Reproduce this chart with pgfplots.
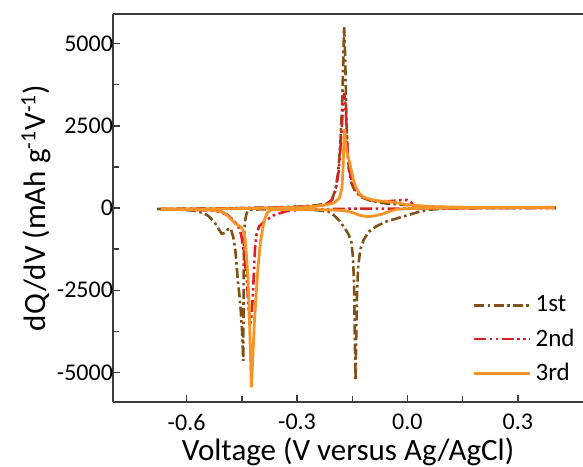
\documentclass[border=0pt]{standalone}
\usepackage{fontspec}
\setmainfont{Carlito}
\usepackage{pgfplots}
\pgfplotsset{compat=1.18}
\usetikzlibrary{calc}
\definecolor{cbrown}{RGB}{128,82,24}
\definecolor{cred}{RGB}{222,30,36}
\definecolor{corange}{RGB}{247,148,40}
\definecolor{axgray}{RGB}{60,60,60}
\begin{document}
\begin{tikzpicture}
\begin{axis}[
  width=235pt, height=194pt, scale only axis,
  xmin=-0.8, xmax=0.477, ymin=-5900, ymax=5900,
  axis x line=box, axis y line=left,
  axis line style={axgray, line width=0.75pt, -},
  xtick={-0.6,-0.3,0,0.3}, ytick={-5000,-2500,0,2500,5000},
  minor x tick num=1, minor y tick num=1,
  xtick pos=bottom, ytick pos=left,
  tick align=inside, major tick length=3.5pt, minor tick length=3pt,
  tick style={axgray, line width=0.7pt},
  scaled ticks=false,
  /pgf/number format/assume math mode=true,
  /pgf/number format/1000 sep={},
  xticklabel style={yshift=-2.5pt, /pgf/number format/.cd, fixed, fixed zerofill, precision=1},
  yticklabel style={xshift=3.5pt},
  tick label style={font=\fontsize{12}{14}\selectfont},
  xlabel={Voltage (V versus Ag/AgCl)},
  ylabel={dQ/dV (mAh g\textsuperscript{-1}V\textsuperscript{-1})},
  label style={font=\fontsize{15.5}{18}\selectfont},
  xlabel style={yshift=3.4pt},
  ylabel style={yshift=-4pt},
  legend style={at={(rel axis cs:1,0)}, anchor=south east, xshift=-1pt, yshift=6pt,
    draw=none, fill=none, font=\fontsize{12.5}{14}\selectfont, row sep=3pt,
    inner sep=1pt},
  legend cell align=left,
  legend image code/.code={\draw[#1] (0pt,0pt) -- (28pt,0pt);},
]
% 1st cycle: charge then discharge
\addplot[cbrown, line width=1.3pt, dash pattern=on 5pt off 1.7pt on 1.3pt off 1.7pt] coordinates {
(-0.680,-30) (-0.600,-20) (-0.500,-10) (-0.400,10) (-0.300,40) (-0.250,80) (-0.220,130)
(-0.205,260) (-0.195,600) (-0.188,1100) (-0.182,2000) (-0.177,3300) (-0.174,4600)
(-0.172,5500) (-0.170,4900) (-0.168,4000) (-0.166,2800) (-0.163,1800) (-0.159,1150)
(-0.152,750) (-0.143,520) (-0.125,330) (-0.100,220) (-0.060,140) (0.000,90) (0.050,50)
(0.100,30) (0.200,15) (0.300,10) (0.400,10)
(0.400,5) (0.300,0) (0.200,-5) (0.100,-20) (0.060,-50) (0.030,-120) (0.000,-220)
(-0.030,-320) (-0.060,-420) (-0.085,-560) (-0.105,-720) (-0.118,-950) (-0.128,-1250)
(-0.134,-1800) (-0.137,-2600) (-0.139,-3800) (-0.141,-5250) (-0.143,-3900) (-0.145,-2300)
(-0.148,-1500) (-0.152,-1050) (-0.160,-800) (-0.170,-620) (-0.185,-380) (-0.200,-220)
(-0.215,-110) (-0.250,-60) (-0.300,-45) (-0.350,-40) (-0.400,-40) (-0.430,-60)
(-0.434,-80) (-0.438,-200) (-0.442,-450) (-0.444,-900) (-0.445,-2000) (-0.4455,-3500)
(-0.446,-4650) (-0.449,-3800) (-0.453,-3100) (-0.457,-2600) (-0.461,-2200) (-0.465,-1600)
(-0.468,-1250) (-0.473,-900) (-0.480,-620) (-0.488,-650) (-0.497,-760) (-0.505,-780)
(-0.515,-600) (-0.525,-420) (-0.540,-250) (-0.555,-150) (-0.580,-80) (-0.620,-50) (-0.680,-30)
};
\addlegendentry{1st}
% 2nd cycle
\addplot[cred, line width=1.3pt, dash pattern=on 6pt off 1.7pt on 1.3pt off 1.7pt on 1.3pt off 1.7pt] coordinates {
(-0.670,-30) (-0.500,-20) (-0.400,0) (-0.300,30) (-0.250,60) (-0.220,120) (-0.205,250)
(-0.195,550) (-0.187,1100) (-0.181,2000) (-0.176,2900) (-0.172,3500) (-0.169,3200)
(-0.166,2600) (-0.163,1800) (-0.159,1250) (-0.152,850) (-0.143,560) (-0.130,400)
(-0.115,300) (-0.095,230) (-0.070,200) (-0.040,215) (-0.020,240) (0.000,245) (0.008,200)
(0.015,90) (0.030,40) (0.100,20) (0.200,15) (0.400,10)
(0.400,0) (0.200,-5) (0.050,-10) (0.000,-15) (-0.050,-20) (-0.100,-20) (-0.150,-20)
(-0.200,-30) (-0.250,-40) (-0.300,-60) (-0.330,-100) (-0.350,-170) (-0.365,-230)
(-0.377,-320) (-0.390,-420) (-0.403,-560) (-0.410,-800) (-0.414,-1200) (-0.417,-1900)
(-0.420,-2700) (-0.424,-3300) (-0.428,-3600) (-0.432,-3000) (-0.436,-2200) (-0.441,-1700)
(-0.446,-1200) (-0.452,-800) (-0.460,-550) (-0.472,-380) (-0.490,-200) (-0.520,-90)
(-0.580,-50) (-0.670,-30)
};
\addlegendentry{2nd}
% 3rd cycle
\addplot[corange, line width=1.4pt] coordinates {
(-0.670,-30) (-0.600,-30) (-0.500,-25) (-0.400,-10) (-0.300,20) (-0.250,50) (-0.220,100)
(-0.200,150) (-0.185,300) (-0.178,600) (-0.175,1200) (-0.173,1900) (-0.171,2400)
(-0.169,2150) (-0.166,1800) (-0.162,1580) (-0.157,1380) (-0.152,1120) (-0.146,820)
(-0.139,600) (-0.130,430) (-0.119,330) (-0.100,260) (-0.080,220) (-0.050,190)
(-0.020,140) (0.000,100) (0.030,70) (0.060,45) (0.100,30) (0.200,20) (0.300,20) (0.396,20)
(0.396,10) (0.300,10) (0.200,5) (0.100,0) (0.030,-10) (0.000,-20) (-0.030,-40)
(-0.050,-110) (-0.070,-190) (-0.090,-240) (-0.110,-260) (-0.130,-220) (-0.150,-140)
(-0.170,-80) (-0.200,-60) (-0.250,-50) (-0.300,-45) (-0.350,-45) (-0.370,-55) (-0.380,-130)
(-0.387,-300) (-0.393,-600) (-0.400,-1100) (-0.406,-1800) (-0.411,-2600) (-0.416,-3500)
(-0.420,-4500) (-0.424,-5450) (-0.427,-4300) (-0.430,-3000) (-0.433,-2200) (-0.437,-1500)
(-0.441,-950) (-0.446,-700) (-0.452,-580) (-0.460,-520) (-0.468,-470) (-0.480,-330)
(-0.495,-170) (-0.510,-90) (-0.540,-60) (-0.600,-50) (-0.670,-40)
};
\addlegendentry{3rd}
\end{axis}
\pgfresetboundingbox
\path ($(current axis.south west)+(-56.5pt,-32pt)$) rectangle ($(current axis.north east)+(0pt,7pt)$);
\end{tikzpicture}
\end{document}
